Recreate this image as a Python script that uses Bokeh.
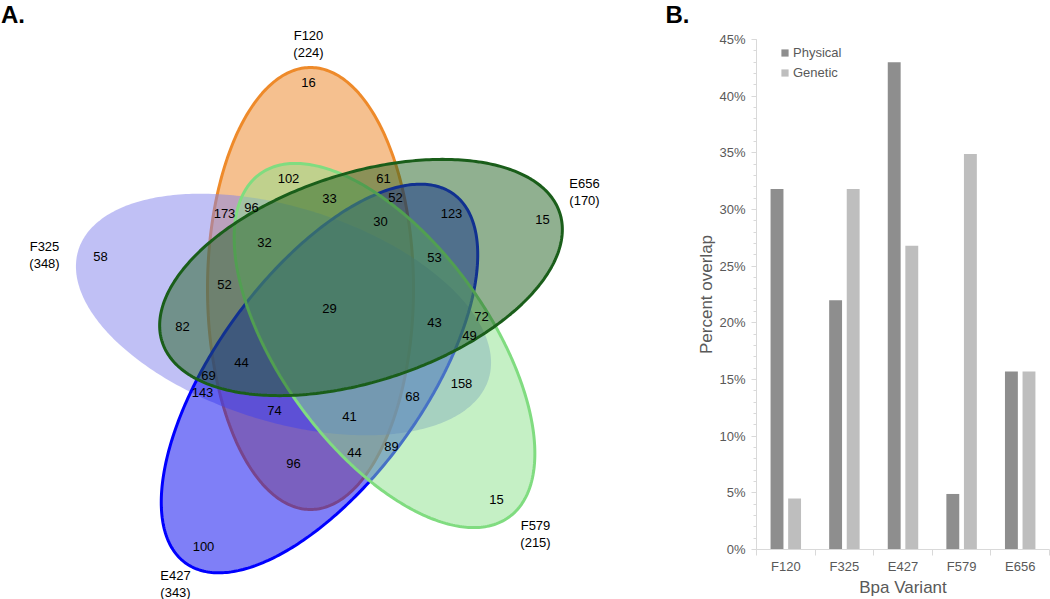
import numpy as np
from bokeh.plotting import figure
from bokeh.layouts import row
from bokeh.models import (Range1d, FixedTicker, PrintfTickFormatter, Legend,
                          LegendItem, ColumnDataSource)
from bokeh.core.properties import value
from bokeh.embed import file_html
from bokeh.resources import INLINE

# ---------------- data ----------------
set_names = ["F120", "F325", "E427", "F579", "E656"]
set_sizes = [224, 348, 343, 215, 170]
region_counts = [16, 102, 61, 33, 52, 173, 96, 30, 123, 15, 58, 32, 53, 52, 82,
                 29, 43, 72, 49, 44, 69, 143, 158, 74, 41, 68, 89, 44, 96, 15, 100]

variants = ["F120", "F325", "E427", "F579", "E656"]
physical = [31.8, 22.0, 43.0, 4.9, 15.7]
genetic = [4.5, 31.8, 26.8, 34.9, 15.7]
y_major_ticks = [0, 5, 10, 15, 20, 25, 30, 35, 40, 45]

# ---------------- layout (reference pixel positions, y down) ----------------
H_REF = 599
W_VENN = 694
ellipse_geom = [  # cx, cy, semi-major, semi-minor, angle (deg, ccw)
    (310, 288, 221, 103, 90),
    (283, 314, 215, 107, -17.5),
    (319, 378, 228, 104, 54),
    (384, 345, 212, 104, -54),
    (360.5, 277, 209, 104, 18),
]
ellipse_style = [  # fill, line
    ("#EB811F", "#EE8A2A"),
    ("#8181EB", None),
    ("#0000F0", "#0000FF"),
    ("#8BE18B", "#80DC80"),
    ("#216121", "#1A5E1A"),
]
region_xy = [(308, 82), (288, 178), (383, 178), (329, 198), (395, 197), (224, 213),
             (251, 207), (380, 221), (451, 213), (542, 219), (100, 256), (264, 242),
             (434, 257), (224, 284), (182, 326), (329, 308), (434, 322), (481, 316),
             (469, 335), (241, 362), (208, 375), (202, 392), (461, 383), (274, 410),
             (349, 416), (412, 396), (391, 446), (354, 452), (293, 463), (496, 499),
             (203, 546)]
set_label_xy = [(308, 35), (44, 246), (175, 575), (535, 525), (584, 183)]
LINE2 = 16.5

FONT = value("Liberation Sans")

# ---------------- Venn (panel A) ----------------
venn = figure(width=W_VENN, height=H_REF, x_range=Range1d(0, W_VENN), y_range=Range1d(0, H_REF),
              x_axis_type=None, y_axis_type=None, output_backend="svg",
              toolbar_location=None, min_border=0, outline_line_color=None)
venn.grid.visible = False
venn.frame_align = False

t = np.linspace(0, 2 * np.pi, 361)
for (cx, cy, a, b, ang), (fc, lc) in zip(ellipse_geom, ellipse_style):
    th = np.radians(ang)
    ex = cx + a * np.cos(t) * np.cos(th) - b * np.sin(t) * np.sin(th)
    ey = (H_REF - cy) + a * np.cos(t) * np.sin(th) + b * np.sin(t) * np.cos(th)
    if lc is None:
        venn.patch(ex, ey, fill_color=fc, fill_alpha=0.5, line_color=None)
    else:
        venn.patch(ex, ey, fill_color=fc, fill_alpha=0.5, line_color=lc, line_width=3)

venn.text(x=[p[0] for p in region_xy], y=[H_REF - p[1] for p in region_xy],
          text=[str(c) for c in region_counts], text_align="center",
          text_baseline="middle", text_font=FONT, text_font_size="13px",
          text_color="black")
venn.text(x=[p[0] for p in set_label_xy], y=[H_REF - p[1] for p in set_label_xy],
          text=set_names, text_align="center", text_baseline="middle",
          text_font=FONT, text_font_size="13px", text_color="black")
venn.text(x=[p[0] for p in set_label_xy], y=[H_REF - p[1] - LINE2 for p in set_label_xy],
          text=["(%d)" % s for s in set_sizes], text_align="center",
          text_baseline="middle", text_font=FONT, text_font_size="13px",
          text_color="black")
# panel letters
venn.text(x=[0.5, 665], y=[H_REF - 14, H_REF - 14], text=["A.", "B."], text_align="left",
          text_baseline="middle", text_font=FONT, text_font_size="24px",
          text_font_style="bold", text_color="black")

# ---------------- Bar chart (panel B) ----------------
bar = figure(width=1050 - W_VENN, height=H_REF, x_range=Range1d(0, 5), y_range=Range1d(0, 45),
             output_backend="svg", toolbar_location=None,
             min_border_left=60, min_border_right=1, min_border_top=39,
             min_border_bottom=50, outline_line_color=None)
bar.grid.visible = False
bar.frame_align = False

xc = np.arange(len(variants)) + 0.5
src = ColumnDataSource(dict(xp=xc - 0.15, xg=xc + 0.15, phys=physical, gen=genetic))
r1 = bar.vbar(x="xp", top="phys", width=0.22, source=src, fill_color="#8E8E8E", line_color=None)
r2 = bar.vbar(x="xg", top="gen", width=0.22, source=src, fill_color="#BEBEBE", line_color=None)

legend = Legend(items=[LegendItem(label="Physical", renderers=[r1]),
                       LegendItem(label="Genetic", renderers=[r2])],
                location=(24, 469), orientation="vertical", glyph_width=9,
                glyph_height=9, label_height=16, spacing=4, padding=0, margin=0,
                label_standoff=4, border_line_color=None, background_fill_alpha=0,
                label_text_font="Liberation Sans", label_text_font_size="13px",
                label_text_color="#595959")
bar.add_layout(legend)

GRAY = "#D9D9D9"
TXT = "#595959"
yax = bar.yaxis[0]
yax.ticker = FixedTicker(ticks=y_major_ticks, minor_ticks=list(range(0, 46)))
yax.formatter = PrintfTickFormatter(format="%d%%")
yax.axis_line_color = GRAY
yax.major_tick_line_color = GRAY
yax.minor_tick_line_color = GRAY
yax.major_tick_out = 5
yax.major_tick_in = 0
yax.minor_tick_out = 3
yax.minor_tick_in = 0
yax.major_label_text_color = TXT
yax.major_label_text_font = "Liberation Sans"
yax.major_label_text_font_size = "13px"
yax.major_label_standoff = 6
yax.axis_label = "Percent overlap"
yax.axis_label_text_font = "Liberation Sans"
yax.axis_label_text_font_size = "17px"
yax.axis_label_text_font_style = "normal"
yax.axis_label_text_color = TXT
yax.axis_label_standoff = 0

xax = bar.xaxis[0]
xax.ticker = FixedTicker(ticks=list(xc), minor_ticks=list(range(0, len(variants) + 1)))
xax.major_label_overrides = {float(x): v for x, v in zip(xc, variants)}
xax.axis_line_color = GRAY
xax.major_tick_line_color = None
xax.major_tick_out = 0
xax.major_tick_in = 0
xax.minor_tick_line_color = GRAY
xax.minor_tick_out = 6
xax.minor_tick_in = 0
xax.major_label_text_color = TXT
xax.major_label_text_font = "Liberation Sans"
xax.major_label_text_font_size = "13px"
xax.major_label_standoff = 3
xax.axis_label = "Bpa Variant"
xax.axis_label_text_font = "Liberation Sans"
xax.axis_label_text_font_size = "17px"
xax.axis_label_text_font_style = "normal"
xax.axis_label_text_color = TXT
xax.axis_label_standoff = 1

layout = row(venn, bar, spacing=0)
open("out.html", "w").write(file_html(layout, INLINE))
